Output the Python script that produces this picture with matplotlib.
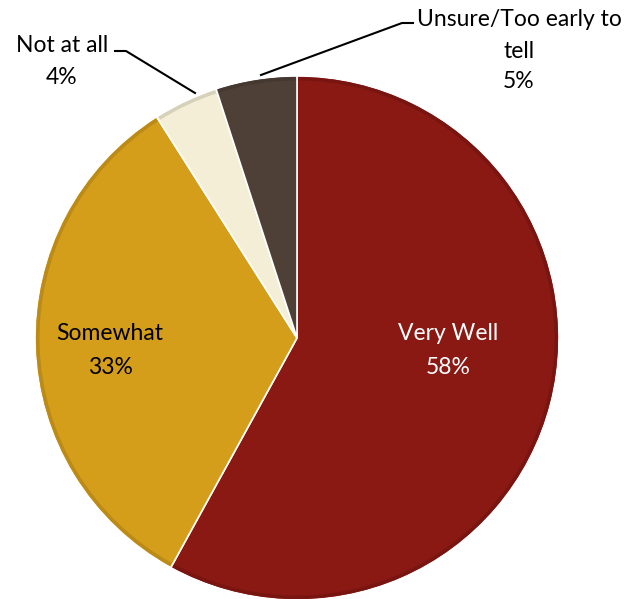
import matplotlib
matplotlib.use("Agg")
import matplotlib.pyplot as plt
from matplotlib.patches import Wedge
import matplotlib.colors as mcolors

categories = ["Very Well", "Somewhat", "Not at all", "Unsure/Too early to\ntell"]
values = [58, 33, 4, 5]
pct_labels = ["58%", "33%", "4%", "5%"]
colors = ["#8A1813", "#D49D1A", "#F3EED5", "#4E4037"]

plt.rcParams['font.family'] = ['Lato', 'DejaVu Sans']

W, H = 639, 599
fig = plt.figure(figsize=(W / 100, H / 100), dpi=100)
ax = fig.add_axes([0, 0, 1, 1])

cx, cy, r = 297, H - 338, 262
wedges, _ = ax.pie(values, colors=colors, startangle=90, counterclock=False,
                   center=(cx, cy), radius=r, frame=True,
                   wedgeprops=dict(edgecolor="white", linewidth=1.2))

# subtle bevel: slightly darker rim inside each wedge
for w, c in zip(wedges, colors):
    dark = tuple(v * 0.88 for v in mcolors.to_rgb(c))
    rim = Wedge((cx, cy), r - 1, w.theta1 + 0.3, w.theta2 - 0.3, width=3.5,
                facecolor=dark, edgecolor="none", zorder=3)
    ax.add_patch(rim)

ax.set_xlim(0, W)
ax.set_ylim(0, H)
ax.set_aspect("equal")
ax.axis("off")

fs = 16.5
# inside labels
ax.text(448, H - 333, categories[0], ha="center", va="center", fontsize=fs, color="white", zorder=5)
ax.text(448, H - 367, pct_labels[0], ha="center", va="center", fontsize=fs, color="white", zorder=5)
ax.text(110, H - 333, categories[1], ha="center", va="center", fontsize=fs, color="black", zorder=5)
ax.text(110, H - 367, pct_labels[1], ha="center", va="center", fontsize=fs, color="black", zorder=5)

# outside labels
ax.text(62, H - 46, categories[2], ha="center", va="center", fontsize=fs, color="black")
ax.text(62, H - 77, pct_labels[2], ha="center", va="center", fontsize=fs, color="black")
ax.text(519, H - 20, "Unsure/Too early to", ha="center", va="center", fontsize=fs, color="black")
ax.text(519, H - 51, "tell", ha="center", va="center", fontsize=fs, color="black")
ax.text(519, H - 82, pct_labels[3], ha="center", va="center", fontsize=fs, color="black")

# leader lines
ax.plot([115, 126, 195], [H - 51, H - 51, H - 93], color="black", lw=1.5, zorder=6)
ax.plot([413, 402, 261], [H - 23, H - 23, H - 75], color="black", lw=1.5, zorder=6)

fig.savefig("out.png", dpi=100, facecolor="white")
